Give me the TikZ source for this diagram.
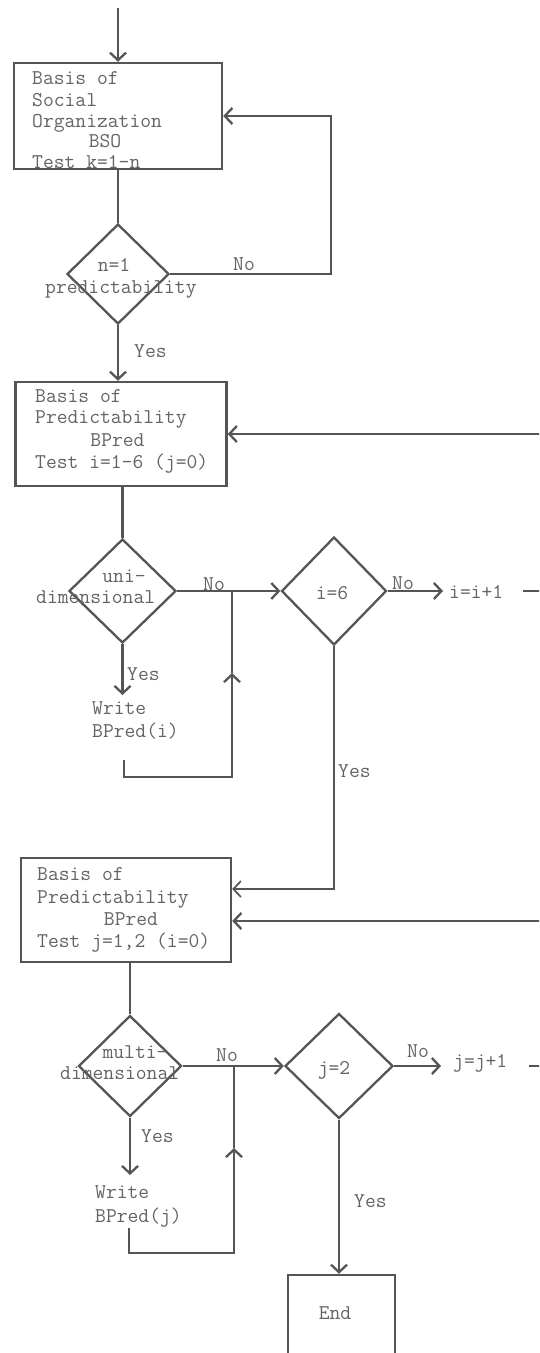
\documentclass[tikz,border=0pt]{standalone}
\usepackage{fontspec}
\usetikzlibrary{arrows.meta,shapes.geometric}
\definecolor{ink}{HTML}{555555}
\definecolor{tc}{HTML}{646464}
\begin{document}
\begin{tikzpicture}[x=1pt,y=-1pt,
  ln/.style={draw=ink,line width=2.3pt},
  arr/.style={ln,-{Straight Barb[length=7.5pt,width=16pt]}},
  box/.style={draw=ink,line width=2.5pt,rectangle,inner sep=0},
  dia/.style={draw=ink,line width=2.3pt,diamond,inner sep=0},
  txt/.style={inner sep=0,text=tc,font=\ttfamily\fontsize{21}{24}\selectfont},
  lt/.style={txt,anchor=base west},
  ct/.style={txt,anchor=base}]
\useasboundingbox (0,0) rectangle (539,1353);
\clip (0,0) rectangle (539,1353);
\fill[white] (0,0) rectangle (539,1353);

% ---------- boxes ----------
\node[box,minimum width=208pt,minimum height=106pt] (bso) at (118,116) {};
\node[box,minimum width=211pt,minimum height=104pt] (bp1) at (121,434) {};
\node[box,minimum width=210pt,minimum height=104pt] (bp2) at (126,910) {};
\node[box,minimum width=107pt,minimum height=90pt] (end) at (341.5,1320) {};

% ---------- diamonds ----------
\node[dia,minimum width=102pt,minimum height=100pt] (d1) at (118,274) {};
\node[dia,minimum width=107pt,minimum height=104pt] (d2) at (122.5,591) {};
\node[dia,minimum width=105pt,minimum height=108pt] (d3) at (334,591) {};
\node[dia,minimum width=103pt,minimum height=101pt] (d4) at (130,1066) {};
\node[dia,minimum width=108pt,minimum height=105pt] (d5) at (339,1066) {};

% ---------- texts in boxes ----------
\node[lt] (t1) at (32,84) {Basis of};
\node[lt] (t2) at (32,106) {Social};
\node[lt] (t3) at (32,127.5) {Organization};
\node[ct] (t4) at (105,147.5) {BSO};
\node[lt] (t5) at (32,168) {Test k=1-n};

\node[lt] (u1) at (35,402) {Basis of};
\node[lt] (u2) at (35,423) {Predictability};
\node[ct] (u3) at (117.5,446) {BPred};
\node[lt] (u4) at (35,468) {Test i=1-6 (j=0)};

\node[lt] (v1) at (37,880) {Basis of};
\node[lt] (v2) at (37,903) {Predictability};
\node[ct] (v3) at (131,925) {BPred};
\node[lt] (v4) at (37,947) {Test j=1,2 (i=0)};

\node[ct] (e1) at (335,1319) {End};

% ---------- texts in diamonds ----------
\node[ct] (n1) at (114,271) {n=1};
\node[lt] (n2) at (45,293) {predictability};
\node[ct] (m1) at (124,582) {uni-};
\node[lt] (m2) at (36,603) {dimensional};
\node[ct] (m3) at (332,599) {i=6};
\node[ct] (k1) at (135,1058) {multi-};
\node[lt] (k2) at (60,1079) {dimensional};
\node[ct] (k3) at (334,1074) {j=2};

% ---------- side texts ----------
\node[lt] (inc1) at (449,598) {i=i+1};
\node[lt] (inc2) at (453,1067) {j=j+1};
\node[lt] (w1) at (92,714) {Write};
\node[lt] (w2) at (92,737) {BPred(i)};
\node[lt] (w3) at (95,1198) {Write};
\node[lt] (w4) at (95,1222) {BPred(j)};

% ---------- labels ----------
\node[lt] (no1) at (233,270) {No};
\node[lt] (ye1) at (134,357) {Yes};
\node[lt] (no2) at (203,590) {No};
\node[lt] (no3) at (392,589) {No};
\node[lt] (ye2) at (127,680) {Yes};
\node[lt] (ye3) at (338,777) {Yes};
\node[lt] (no4) at (216,1061) {No};
\node[lt] (no5) at (407,1057) {No};
\node[lt] (ye4) at (141,1142) {Yes};
\node[lt] (ye5) at (354,1207) {Yes};

% ---------- coordinates ----------
\coordinate (start) at (118,8);
\coordinate (loop1) at (331,200);
\coordinate (a1) at (443,591);
\coordinate (r1) at (523,591);
\coordinate (far1) at (570,500);
\coordinate (a2) at (441,1066);
\coordinate (r2) at (529,1066);
\coordinate (far2) at (570,1000);
\coordinate (wy1) at (122.5,695);
\coordinate (wb1) at (124,760);
\coordinate (wc1) at (124,777);
\coordinate (up1) at (232,673);
\coordinate (j1) at (232,591);
\coordinate (wy2) at (130,1175);
\coordinate (wb2) at (129,1228);
\coordinate (wc2) at (129,1253);
\coordinate (up2) at (234,1148);
\coordinate (j2) at (234,1066);

% ---------- connectors ----------
\draw[arr] (start) -- (bso.north);
\draw[ln] (bso.south) -- (bso.south |- d1.north);
\draw[arr] (d1.east) -| (loop1) |- (bso.east);
\draw[arr] (d1.south) -- (d1.south |- bp1.north);
\draw[ln] (d2.north |- bp1.south) -- (d2.north);
\draw[arr] (d2.east) -- (d3.west);
\draw[arr] (d3.east) -- (a1);
\draw[arr] (r1) -| (far1) |- (bp1.east);
\draw[arr] (d2.south) -- (wy1);
\draw[arr] (wb1) -- (wc1) -| (up1);
\draw[ln] (up1) -- (j1);
\draw[arr,line width=1.7pt] (d3.south) |- ([yshift=21pt]bp2.east);

\draw[arr] (r2) -| (far2) |- ([yshift=-11pt]bp2.east);
\draw[ln] (d4.north |- bp2.south) -- (d4.north);
\draw[arr] (d4.east) -- (d5.west);
\draw[arr] (d5.east) -- (a2);
\draw[arr] (d4.south) -- (wy2);
\draw[arr] (wb2) -- (wc2) -| (up2);
\draw[ln] (up2) -- (j2);
\draw[arr] (d5.south) -- (d5.south |- end.north);
\end{tikzpicture}
\end{document}
